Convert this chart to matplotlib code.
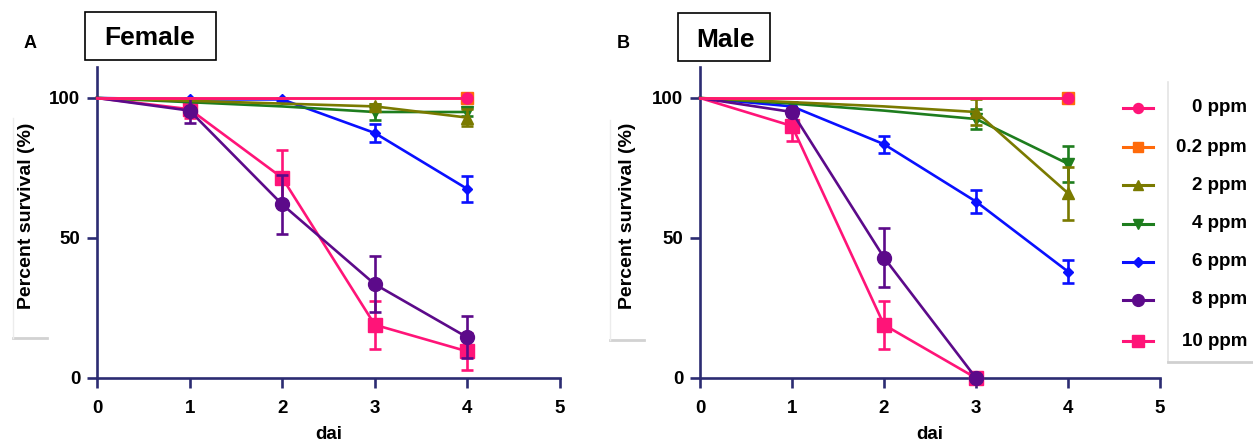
import numpy as np
import matplotlib
matplotlib.use("Agg")
import matplotlib.pyplot as plt
from matplotlib.lines import Line2D
from matplotlib.patches import Rectangle

plt.rcParams['font.family'] = ['Liberation Sans', 'DejaVu Sans']
plt.rcParams['font.weight'] = 'bold'

# ---------------- data ----------------
days = [0, 1, 2, 3, 4]
labels = ["0 ppm", "0.2 ppm", "2 ppm", "4 ppm", "6 ppm", "8 ppm", "10 ppm"]

female_0 = [100, 100, 100, 100, 100]
female_02 = [100, 100, 100, 100, 100]
female_2 = [100, 99, 98, 97, 93]
female_4 = [100, 98.5, 97, 95, 95]
female_6 = [100, 99.5, 99.5, 87.5, 67.5]
female_8 = [100, 95.5, 62, 33.5, 14.5]
female_10 = [100, 96, 71.5, 19, 9.5]

female_0_err = [0, 0, 0, 0, 0]
female_02_err = [0, 0, 0, 0, 0]
female_2_err = [0, 0, 0, 1, 3]
female_4_err = [0, 0, 0, 3, 1.5]
female_6_err = [0, 0, 0.5, 3.3, 4.5]
female_8_err = [0, 4.5, 10.5, 10, 7.5]
female_10_err = [0, 3, 10, 8.5, 6.5]

male_0 = [100, 100, 100, 100, 100]
male_02 = [100, 100, 100, 100, 100]
male_2 = [100, 98.5, 97, 95, 66]
male_4 = [100, 98, 95.5, 92.5, 76.5]
male_6 = [100, 97, 83.5, 63, 38]
male_8 = [100, 95, 43, 0, np.nan]
male_10 = [100, 90, 19, 0, np.nan]

male_0_err = [0, 0, 0, 0, 0]
male_02_err = [0, 0, 0, 0, 0]
male_2_err = [0, 0, 0, 4.5, 9.5]
male_4_err = [0, 0, 0, 3.5, 6.5]
male_6_err = [0, 1.5, 3, 4, 4]
male_8_err = [0, 1.5, 10.5, 0, 0]
male_10_err = [0, 5.5, 8.5, 0, 0]

# ---------------- styles ----------------
colors = ["#ff1478", "#ff6a0a", "#7a7a00", "#1e7d1e", "#0a10ff", "#5c0a8a", "#ff1478"]
markers = ["o", "s", "^", "v", "D", "o", "s"]
msizes = [8, 8, 8, 8, 5.5, 10, 9.5]
mark_at = [[4], [4], [3, 4], [3, 4], [1, 2, 3, 4], [1, 2, 3, 4], [1, 2, 3, 4]]
spine_col = "#2c2c72"

female = [(female_0, female_0_err), (female_02, female_02_err), (female_2, female_2_err),
          (female_4, female_4_err), (female_6, female_6_err), (female_8, female_8_err),
          (female_10, female_10_err)]
male = [(male_0, male_0_err), (male_02, male_02_err), (male_2, male_2_err),
        (male_4, male_4_err), (male_6, male_6_err), (male_8, male_8_err),
        (male_10, male_10_err)]

W, H = 1253, 442
fig = plt.figure(figsize=(12.53, 4.42), dpi=100)

ax_a = fig.add_axes([97/W, 64/H, 463/W, 310.8/H])
ax_b = fig.add_axes([700/W, 64/H, 460/W, 310.8/H])


def draw(ax, series):
    x = np.array(days, dtype=float)
    order = [6, 4, 3, 2, 5, 1, 0]
    z = 3
    for i in order:
        y, e = series[i]
        y = np.array(y, dtype=float)
        e = np.array(e, dtype=float)
        ax.plot(x, y, color=colors[i], lw=1.9, marker=markers[i], ms=msizes[i],
                markevery=mark_at[i], mec=colors[i], mfc=colors[i], zorder=z, clip_on=False)
        m = (e > 0) & ~np.isnan(y)
        if m.any():
            ax.errorbar(x[m], y[m], yerr=e[m], fmt='none', ecolor=colors[i],
                        elinewidth=1.9, capsize=4.5, capthick=1.9, zorder=z, clip_on=False)
        z += 1
    ax.set_xlim(0, 5)
    ax.set_ylim(0, 111)
    ax.set_xticks([0, 1, 2, 3, 4, 5])
    ax.set_yticks([0, 50, 100])
    for s in ['top', 'right']:
        ax.spines[s].set_visible(False)
    for s in ['left', 'bottom']:
        ax.spines[s].set_color(spine_col)
        ax.spines[s].set_linewidth(1.9)
    ax.tick_params(axis='both', colors=spine_col, width=1.9, labelcolor='black',
                   labelsize=13.5, direction='out')
    ax.tick_params(axis='x', length=7, pad=9)
    ax.tick_params(axis='y', length=7, pad=5)
    for t in ax.get_xticklabels() + ax.get_yticklabels():
        t.set_fontweight('bold')
    ax.set_xlabel("dai", fontsize=13.5, fontweight='bold', labelpad=6)


draw(ax_a, female)
draw(ax_b, male)


def ylabel_box(x0, x1, ybot, ytop, xc):
    fig.add_artist(Line2D([x0/W, x1/W], [(H - ybot)/H]*2, color="#d2d2d2", lw=2.0,
                          transform=fig.transFigure))
    fig.add_artist(Line2D([x0/W]*2, [(H - ybot)/H, (H - ytop)/H], color="#ececec", lw=1.0,
                          transform=fig.transFigure))
    fig.text(xc/W, (H - 216)/H, "Percent survival (%)", rotation=90, ha='center',
             va='center', fontsize=14, fontweight='bold')


ylabel_box(13, 47, 338, 118, 27)
ylabel_box(610, 644, 340, 120, 628)


def title_box(x0, x1, y0, y1, text, xc, yc):
    fig.add_artist(Rectangle((x0/W, 1 - y1/H), (x1 - x0)/W, (y1 - y0)/H, fc='white',
                             ec='black', lw=1.2, transform=fig.transFigure))
    fig.text(xc/W, 1 - yc/H, text, fontsize=19, fontweight='bold', ha='center', va='center')


fig.text(24/W, 1 - 44/H, "A", fontsize=13, fontweight='bold', ha='left', va='center')
fig.text(617/W, 1 - 44/H, "B", fontsize=13, fontweight='bold', ha='left', va='center')
title_box(85, 216, 12, 60, "Female", 150, 38)
title_box(678, 770, 13, 61, "Male", 725, 40)

# legend (right side)
fig.add_artist(Line2D([1168/W, 1168/W], [(H - 82)/H, (H - 362)/H], color="#e4e4e4", lw=1.2,
                      transform=fig.transFigure))
fig.add_artist(Line2D([1168/W, 1253/W], [(H - 362)/H]*2, color="#d0d0d0", lw=2.0,
                      transform=fig.transFigure))
row_y = [108, 147, 185, 224, 262, 300, 341]
for i, lab in enumerate(labels):
    yf = (H - row_y[i]) / H
    fig.add_artist(Line2D([1123/W, 1153/W], [yf, yf], color=colors[i], lw=2.2,
                          transform=fig.transFigure))
    fig.add_artist(Line2D([1138/W], [yf], color=colors[i], marker=markers[i],
                          ms=msizes[i] * (0.85 if i in (5, 6) else 0.9), mfc=colors[i], mec=colors[i],
                          lw=0, transform=fig.transFigure))
    fig.text(1247/W, yf, lab, fontsize=13.5, fontweight='bold', ha='right', va='center')

fig.savefig("out.png", dpi=100)
